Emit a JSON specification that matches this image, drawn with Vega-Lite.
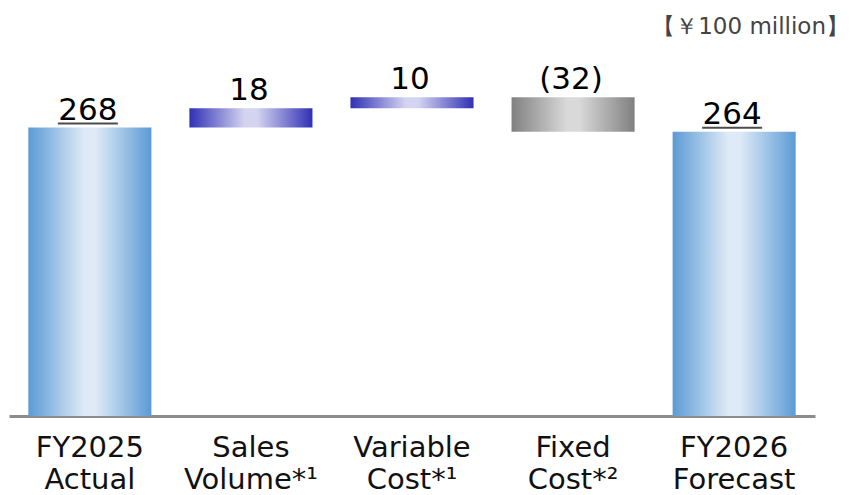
{
  "$schema": "https://vega.github.io/schema/vega-lite/v6.json",
  "width": 806,
  "height": 366,
  "autosize": "none",
  "padding": {"left": 9, "top": 50, "right": 38, "bottom": 79},
  "background": "white",
  "config": {
    "view": {"stroke": null},
    "font": "DejaVu Sans"
  },
  "title": {
    "text": "【￥100 million】",
    "anchor": "end",
    "frame": "group",
    "dx": 34,
    "offset": 11,
    "fontSize": 23,
    "fontWeight": "normal",
    "color": "#444444",
    "font": "DejaVu Sans"
  },
  "data": {
    "values": [
      {"step": "FY2025|Actual", "kind": "total", "start": 0, "end": 268, "text": "268"},
      {"step": "Sales|Volume*¹", "kind": "up", "start": 268, "end": 286, "text": "18"},
      {"step": "Variable|Cost*¹", "kind": "up", "start": 286, "end": 296, "text": "10"},
      {"step": "Fixed|Cost*²", "kind": "down", "start": 296, "end": 264, "text": "(32)"},
      {"step": "FY2026|Forecast", "kind": "total", "start": 0, "end": 264, "text": "264"}
    ]
  },
  "encoding": {
    "x": {
      "field": "step",
      "type": "nominal",
      "sort": ["FY2025|Actual", "Sales|Volume*¹", "Variable|Cost*¹", "Fixed|Cost*²", "FY2026|Forecast"],
      "scale": {"paddingInner": 0.236, "paddingOuter": 0.12},
      "axis": {
        "title": null,
        "labelAngle": 0,
        "labelExpr": "split(datum.label, '|')",
        "labelFont": "DejaVu Sans",
        "labelFontSize": 29,
        "labelLineHeight": 32,
        "labelColor": "#111111",
        "labelPadding": 17,
        "labelBaseline": "top",
        "ticks": false,
        "domainColor": "#8c8c8c",
        "domainWidth": 3,
        "grid": false
      }
    }
  },
  "layer": [
    {
      "transform": [{"filter": "datum.kind === 'total'"}],
      "mark": {
        "type": "bar",
        "color": {
          "gradient": "linear", "x1": 0, "y1": 0, "x2": 1, "y2": 0,
          "stops": [
            {"offset": 0, "color": "#5b9bd5"},
            {"offset": 0.45, "color": "#deeaf6"},
            {"offset": 0.55, "color": "#deeaf6"},
            {"offset": 1, "color": "#5b9bd5"}
          ]
        }
      },
      "encoding": {
        "y": {"field": "start", "type": "quantitative", "scale": {"domain": [0, 340]}, "axis": null},
        "y2": {"field": "end"}
      }
    },
    {
      "transform": [{"filter": "datum.kind === 'up'"}],
      "mark": {
        "type": "bar",
        "color": {
          "gradient": "linear", "x1": 0, "y1": 0, "x2": 1, "y2": 0,
          "stops": [
            {"offset": 0, "color": "#3030b4"},
            {"offset": 0.45, "color": "#d4d4f0"},
            {"offset": 0.55, "color": "#d4d4f0"},
            {"offset": 1, "color": "#3030b4"}
          ]
        }
      },
      "encoding": {
        "y": {"field": "start", "type": "quantitative", "scale": {"domain": [0, 340]}, "axis": null},
        "y2": {"field": "end"}
      }
    },
    {
      "transform": [{"filter": "datum.kind === 'down'"}],
      "mark": {
        "type": "bar",
        "color": {
          "gradient": "linear", "x1": 0, "y1": 0, "x2": 1, "y2": 0,
          "stops": [
            {"offset": 0, "color": "#808080"},
            {"offset": 0.45, "color": "#d9d9d9"},
            {"offset": 0.55, "color": "#d9d9d9"},
            {"offset": 1, "color": "#808080"}
          ]
        }
      },
      "encoding": {
        "y": {"field": "start", "type": "quantitative", "scale": {"domain": [0, 340]}, "axis": null},
        "y2": {"field": "end"}
      }
    },
    {
      "transform": [{"calculate": "max(datum.start, datum.end)", "as": "top"}],
      "mark": {
        "type": "text",
        "baseline": "alphabetic",
        "dy": -8,
        "dx": -2,
        "fontSize": 31,
        "font": "DejaVu Sans",
        "color": "#000000"
      },
      "encoding": {
        "y": {"field": "top", "type": "quantitative", "scale": {"domain": [0, 340]}, "axis": null},
        "text": {"field": "text"}
      }
    },
    {
      "transform": [{"filter": "datum.kind === 'total'"}],
      "mark": {
        "type": "tick",
        "orient": "horizontal",
        "size": 60,
        "thickness": 2,
        "yOffset": -4,
        "xOffset": -2,
        "color": "#000000"
      },
      "encoding": {
        "y": {"field": "end", "type": "quantitative", "scale": {"domain": [0, 340]}, "axis": null}
      }
    }
  ]
}
